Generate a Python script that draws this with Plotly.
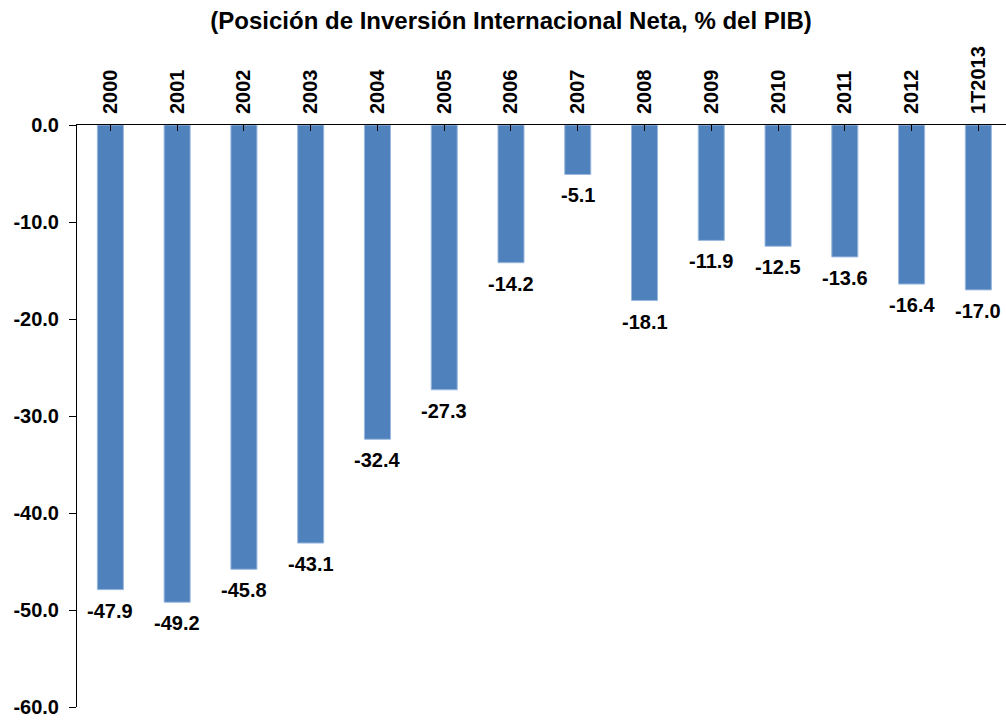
import plotly.graph_objects as go

# Net international investment position, % of GDP
categories = ["2000", "2001", "2002", "2003", "2004", "2005", "2006",
              "2007", "2008", "2009", "2010", "2011", "2012", "1T2013"]
values = [-47.9, -49.2, -45.8, -43.1, -32.4, -27.3, -14.2,
          -5.1, -18.1, -11.9, -12.5, -13.6, -16.4, -17.0]
y_ticks = [0, -10, -20, -30, -40, -50, -60]

FONT = "Liberation Sans, Arial, sans-serif"
BAR = "#4F81BD"

fig = go.Figure()
fig.add_trace(go.Bar(
    x=list(range(len(categories))),
    y=values,
    width=0.39,
    marker=dict(color=BAR, line=dict(color="#9BB9DE", width=1)),
    hoverinfo="skip",
))

# value labels below each bar end
for i, v in enumerate(values):
    fig.add_annotation(
        x=i, y=v, text=f"<b>{v:.1f}</b>", showarrow=False,
        yanchor="top", yshift=-8,
        font=dict(family=FONT, size=20, color="black"),
    )

fig.update_layout(
    width=1006, height=721,
    margin=dict(l=77, r=0, t=125, b=14),
    paper_bgcolor="white", plot_bgcolor="white",
    showlegend=False,
    title=dict(
        text="<b>(Posición de Inversión Internacional Neta, % del PIB)</b>",
        x=0.508, xanchor="center", y=1 - 21 / 721, yanchor="middle",
        yref="container",
        font=dict(family=FONT, size=24, color="black"),
    ),
    xaxis=dict(
        side="top",
        range=[-0.5, 13.414],
        tickmode="array",
        tickvals=list(range(len(categories))),
        ticktext=[f"<b>{c}</b>" for c in categories],
        tickangle=-90,
        tickson="boundaries",
        ticks="inside", ticklen=6, tickcolor="black",
        ticklabelstandoff=6,
        showline=True, linecolor="black", linewidth=1,
        showgrid=False, zeroline=False,
        tickfont=dict(family=FONT, size=20, color="black"),
        fixedrange=True,
    ),
    yaxis=dict(
        range=[-60, 0],
        tickmode="array",
        tickvals=y_ticks,
        ticktext=[f"<b>{t:.1f}</b>" for t in y_ticks],
        ticks="outside", ticklen=7, tickcolor="black",
        ticklabelstandoff=6,
        showline=True, linecolor="black", linewidth=1,
        showgrid=False, zeroline=False,
        tickfont=dict(family=FONT, size=20, color="black"),
        fixedrange=True,
    ),
)

fig.write_html("out.html")
